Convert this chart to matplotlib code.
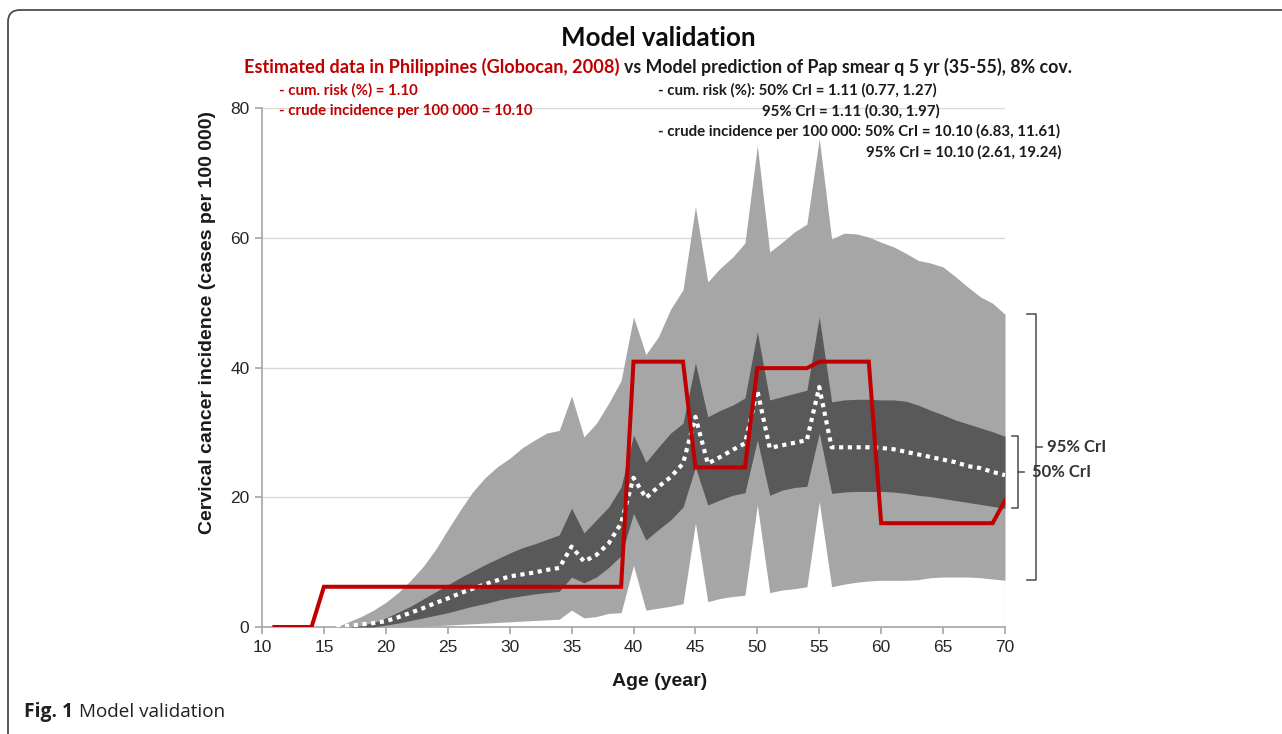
import matplotlib
matplotlib.use('Agg')
import matplotlib.pyplot as plt
import matplotlib.transforms as mtransforms
from matplotlib.patches import FancyBboxPatch
from matplotlib.lines import Line2D

# ---------------- data ----------------
ages = list(range(16, 71))
upper95 = [0.0, 0.8, 1.6, 2.6, 3.8, 5.3, 7.2, 9.3, 11.9, 15.0,
           18.0, 20.8, 23.0, 24.7, 26.0, 27.6, 28.8, 29.9, 30.3, 35.6,
           29.3, 31.4, 34.5, 38.0, 47.8, 42.0, 44.7, 49.0, 52.0, 64.8,
           53.2, 55.3, 57.0, 59.2, 74.2, 57.8, 59.3, 60.9, 62.1, 75.3,
           59.8, 60.7, 60.6, 60.1, 59.3, 58.6, 57.6, 56.5, 56.1, 55.5,
           54.0, 52.4, 50.9, 49.9, 48.2]
lower95 = [0.0, 0.0, 0.0, 0.0, 0.0, 0.0, 0.0, 0.1, 0.2, 0.3,
           0.4, 0.5, 0.6, 0.7, 0.8, 0.9, 1.0, 1.1, 1.2, 2.6,
           1.4, 1.6, 2.1, 2.2, 9.5, 2.6, 2.9, 3.2, 3.6, 16.0,
           3.9, 4.4, 4.7, 4.9, 18.8, 5.3, 5.7, 5.9, 6.2, 19.3,
           6.2, 6.6, 6.9, 7.1, 7.2, 7.2, 7.2, 7.3, 7.6, 7.7,
           7.7, 7.7, 7.6, 7.4, 7.2]
upper50 = [0.0, 0.0, 0.2, 0.7, 1.4, 2.3, 3.2, 4.3, 5.4, 6.5,
           7.6, 8.6, 9.6, 10.5, 11.4, 12.2, 12.8, 13.5, 14.2, 18.3,
           14.5, 16.5, 18.5, 21.6, 29.6, 25.4, 27.7, 29.9, 31.4, 40.7,
           32.4, 33.4, 34.2, 35.3, 45.5, 35.0, 35.5, 36.0, 36.5, 47.8,
           34.7, 35.0, 35.1, 35.1, 35.0, 35.0, 34.8, 34.2, 33.4, 32.7,
           31.9, 31.3, 30.7, 30.1, 29.4]
lower50 = [0.0, 0.0, 0.0, 0.0, 0.3, 0.6, 1.0, 1.4, 1.8, 2.2,
           2.7, 3.2, 3.6, 4.1, 4.5, 4.8, 5.1, 5.3, 5.5, 7.7,
           6.8, 7.7, 9.2, 11.0, 17.5, 13.4, 15.0, 16.5, 18.5, 24.6,
           18.8, 19.6, 20.3, 20.7, 28.8, 20.3, 21.1, 21.5, 21.7, 29.9,
           20.6, 20.8, 20.9, 20.9, 20.9, 20.8, 20.6, 20.3, 20.1, 19.8,
           19.5, 19.2, 18.9, 18.6, 18.3]
median = [0.0, 0.2, 0.4, 0.6, 0.9, 1.5, 2.2, 2.9, 3.7, 4.4,
          5.2, 5.9, 6.6, 7.2, 7.8, 8.1, 8.4, 8.8, 9.1, 12.4,
          10.1, 11.1, 12.9, 16.0, 23.0, 19.9, 21.6, 23.1, 25.2, 32.4,
          25.2, 26.2, 27.3, 28.3, 36.5, 27.6, 28.0, 28.4, 28.8, 37.0,
          27.7, 27.7, 27.7, 27.7, 27.6, 27.4, 27.0, 26.6, 26.2, 25.8,
          25.4, 24.8, 24.5, 23.9, 23.4]

obs_ages = list(range(11, 71))
observed = [0.0] * 4 + [6.2] * 25 + [40.9] * 5 + [24.6] * 5 + [39.9] * 5 + [40.9] * 5 + [16.0] * 10 + [19.5]

xticks = list(range(10, 75, 5))
yticks = [0, 20, 40, 60, 80]

title = "Model validation"
sub_red = "Estimated data in Philippines (Globocan, 2008)"
sub_black = "vs Model prediction of Pap smear q 5 yr (35-55), 8% cov."
red_lines = ["- cum. risk (%) = 1.10", "- crude incidence per 100 000 = 10.10"]
black_lines = ["- cum. risk (%): 50% CrI = 1.11 (0.77, 1.27)",
               "95% CrI = 1.11 (0.30, 1.97)",
               "- crude incidence per 100 000: 50% CrI = 10.10 (6.83, 11.61)",
               "95% CrI = 10.10 (2.61, 19.24)"]
xlabel = "Age (year)"
ylabel = "Cervical cancer incidence (cases per 100 000)"

# ---------------- figure ----------------
W, H = 1282, 734
fig = plt.figure(figsize=(W / 100, H / 100), dpi=100)
fig.patch.set_facecolor('white')
ax = fig.add_axes([262 / W, 1 - 627 / H, (1005 - 262) / W, (627 - 108) / H])
renderer = fig.canvas.get_renderer()

RED = '#C00000'
LIGHT = '#A6A6A6'
DARK = '#595959'

ax.vlines(ages[-1], 0, lower95[-1], colors='#C8C8C8', linestyles=(0, (3, 2)), lw=1, zorder=1)
ax.fill_between(ages, lower95, upper95, color=LIGHT, lw=0, zorder=2)
ax.fill_between(ages, lower50, upper50, color=DARK, lw=0, zorder=3)
ax.plot(ages, median, color='white', lw=3.0, linestyle=(0, (1, 1.1)),
        dash_capstyle='butt', zorder=4)
ax.plot(obs_ages, observed, color=RED, lw=2.9, solid_joinstyle='miter', zorder=5)

ax.set_xlim(10, 70)
ax.set_ylim(0, 80)
ax.set_xticks(xticks)
ax.set_yticks(yticks)
ax.yaxis.grid(True, color='#D9D9D9', lw=1)
ax.set_axisbelow(True)
for s in ['top', 'right']:
    ax.spines[s].set_visible(False)
for s in ['left', 'bottom']:
    ax.spines[s].set_color('#A6A6A6')
    ax.spines[s].set_linewidth(1.2)
ax.tick_params(axis='both', direction='out', length=5, width=1.2, color='#A6A6A6',
               labelsize=12.5, labelcolor='#262626')
for lab in ax.get_xticklabels() + ax.get_yticklabels():
    lab.set_family('Liberation Sans')
ax.tick_params(axis='x', pad=4)
ax.tick_params(axis='y', pad=4)

ax.set_xlabel(xlabel, fontsize=14, fontweight='bold', family='Liberation Sans', color='#1a1a1a')
ax.xaxis.set_label_coords((660 - 262) / 743, (627 - 681) / 519)
ax.xaxis.label.set_va('center')
ax.set_ylabel(ylabel, fontsize=14, fontweight='bold', family='Liberation Sans', color='#1a1a1a')
ax.yaxis.set_label_coords((207 - 262) / 743, (627 - 322) / 519)
ax.yaxis.label.set_va('center')


def ftext(x, y, s, **kw):
    return fig.text(x / W, 1 - y / H, s, **kw)


def fit(t, width, vertical=False):
    bb = t.get_window_extent(renderer)
    cur = bb.height if vertical else bb.width
    t.set_fontsize(t.get_fontsize() * width / cur)
    return t.get_fontsize()


CAL = 'Lato'
# title
t = ftext(658, 38, title, ha='center', va='center', family=CAL, fontweight='bold',
          fontsize=18, color='#0d0d0d')
fit(t, 195)

# subtitle
t1 = ftext(244, 67, sub_red, ha='left', va='center', family=CAL, fontweight='bold',
           fontsize=12, color=RED)
fit(t1, 372)
bbr = t1.get_window_extent(renderer)
t2 = ftext(bbr.x1 + 5, 67, sub_black, ha='left', va='center', family=CAL, fontweight='bold',
           fontsize=12, color='#1a1a1a')
fit(t2, 1070 - (bbr.x1 + 5))

# annotation blocks
tb = ftext(658, 131, black_lines[2], ha='left', va='center', family=CAL, fontweight='bold',
           fontsize=10, color='#1a1a1a')
fs_small = fit(tb, 403)
ftext(658, 90, black_lines[0], ha='left', va='center', family=CAL, fontweight='bold',
      fontsize=fs_small, color='#1a1a1a')
ftext(940, 111, black_lines[1], ha='right', va='center', family=CAL, fontweight='bold',
      fontsize=fs_small, color='#1a1a1a')
ftext(1061, 152, black_lines[3], ha='right', va='center', family=CAL, fontweight='bold',
      fontsize=fs_small, color='#1a1a1a')
tr = ftext(279, 111, red_lines[1], ha='left', va='center', family=CAL, fontweight='bold',
           fontsize=fs_small, color=RED)
fs_red = fit(tr, 254)
ftext(279, 90, red_lines[0], ha='left', va='center', family=CAL, fontweight='bold',
      fontsize=fs_red, color=RED)

# brackets (x in axes fraction, y in data)
bt = mtransforms.blended_transform_factory(ax.transAxes, ax.transData)


def bracket(x0, x1, xt, y0, y1, label, xl):
    ax.add_line(Line2D([x0, x1, x1, x0], [y1, y1, y0, y0], transform=bt, color='#595959',
                       lw=1.2, clip_on=False))
    ym = (y0 + y1) / 2
    ax.add_line(Line2D([x1, xt], [ym, ym], transform=bt, color='#595959', lw=1.2, clip_on=False))
    tt = ax.text(xl, ym, label, transform=bt, ha='left', va='center', family=CAL,
                 fontweight='bold', fontsize=12, color='#333333', clip_on=False)
    return tt


tt95 = bracket(1.0296, 1.0417, 1.0498, lower95[-1], upper95[-1], "95% CrI", 1.0565)
tt50 = bracket(1.0094, 1.0175, 1.0256, lower50[-1], upper50[-1], "50% CrI", 1.0363)
fs_b = fit(tt95, 59)
tt50.set_fontsize(fs_b)

# caption
c1 = ftext(24, 712, "Fig. 1", ha='left', va='center', family='Open Sans', fontweight='bold',
           fontsize=12, color='#231F20')
fit(c1, 49)
bb1 = c1.get_window_extent(renderer)
c2 = ftext(bb1.x1 + 6, 712, "Model validation", ha='left', va='center', family='Open Sans',
           fontsize=c1.get_fontsize(), color='#231F20')
fit(c2, 226 - (bb1.x1 + 6))

# outer frame
frame = FancyBboxPatch((8, -60), 1400, 724 + 60, boxstyle='round,pad=0,rounding_size=12',
                       transform=mtransforms.IdentityTransform(), fill=False,
                       edgecolor='#4d4d4d', lw=1.3)
fig.patches.append(frame)

fig.savefig('out.png', dpi=100, facecolor='white')
